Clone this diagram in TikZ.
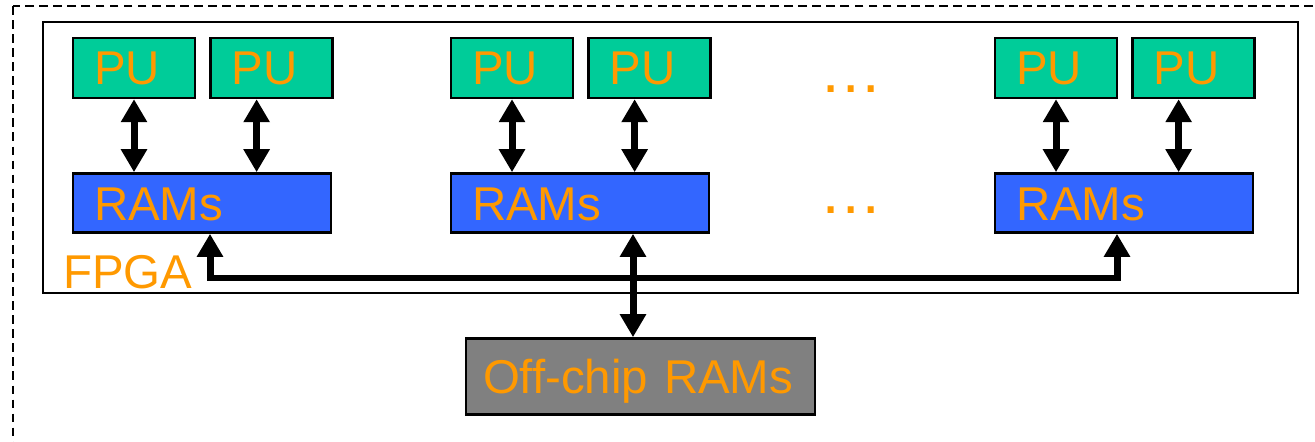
\documentclass[tikz,border=0pt]{standalone}
\usepackage{fontspec}
\setmainfont{Liberation Sans}
\usepackage{tikz}
\usetikzlibrary{arrows.meta, positioning, calc}
\usepackage{xcolor}

\definecolor{txtorange}{HTML}{FF9900}
\definecolor{pugreen}{HTML}{00CC99}
\definecolor{ramblue}{HTML}{3366FF}
\definecolor{chipgray}{HTML}{808080}

\begin{document}
\begin{tikzpicture}[x=0.02cm, y=-0.02cm,
  lbl/.style={text=txtorange, font=\fontsize{27}{32}\selectfont},
  boxbase/.style={lbl, draw, line width=1.5pt, inner ysep=0pt, inner xsep=0.42cm,
    align=left, text height=19.4pt, text depth=0pt},
  pubox/.style={boxbase, fill=pugreen, text width=1.6cm, minimum height=1.2cm},
  ramsbox/.style={boxbase, fill=ramblue, text width=4.32cm, minimum height=1.18cm},
  offchipbox/.style={boxbase, fill=chipgray, text width=6.3cm, inner xsep=0.34cm, minimum height=1.52cm},
  dbl/.style={line width=0.14cm, {Triangle[width=0.5cm, length=0.46cm]}-{Triangle[width=0.5cm, length=0.46cm]}}
  ]
  \useasboundingbox (0,0) rectangle (1315,442);
  \clip (0,0) rectangle (1315,442);

  \draw[line width=1.5pt, dash pattern=on 5pt off 3pt] (13,6) rectangle (1400,520);

  \node[draw, line width=1.2pt, inner sep=0pt, minimum width=25.1cm, minimum height=5.42cm] (fpga) at (670.5,157.5) {};
  \node[lbl, inner sep=0pt, anchor=base west] (fpgalbl) at (63,289) {FPGA};

  \node[ramsbox] (ram1) at (202,203) {RAMs};
  \node[ramsbox] (ram2) at (580,203) {RAMs};
  \node[ramsbox] (ram3) at (1124,203) {RAMs};

  \node[pubox, above=1.46cm of ram1.north west, anchor=south west] (pu1) {PU};
  \node[pubox, right=0.26cm of pu1] (pu2) {PU};
  \node[pubox, above=1.46cm of ram2.north west, anchor=south west] (pu3) {PU};
  \node[pubox, right=0.26cm of pu3] (pu4) {PU};
  \node[pubox, above=1.46cm of ram3.north west, anchor=south west] (pu5) {PU};
  \node[pubox, right=0.26cm of pu5] (pu6) {PU};

  \node[text=txtorange, font=\fontsize{36}{40}\selectfont, inner sep=0pt, anchor=base] (dots1) at (851,93) {…};
  \node[text=txtorange, font=\fontsize{36}{40}\selectfont, inner sep=0pt, anchor=base] (dots2) at (851,214) {…};

  \node[offchipbox] (offchip) at (640.5,376.5) {Off-chip RAMs};

  \draw[dbl] (pu1.south) -- (pu1.south |- ram1.north);
  \draw[dbl] ([xshift=-0.3cm]pu2.south) -- ([xshift=-0.3cm]pu2.south |- ram1.north);
  \draw[dbl] (pu3.south) -- (pu3.south |- ram2.north);
  \draw[dbl] ([xshift=-0.3cm]pu4.south) -- ([xshift=-0.3cm]pu4.south |- ram2.north);
  \draw[dbl] (pu5.south) -- (pu5.south |- ram3.north);
  \draw[dbl] ([xshift=-0.3cm]pu6.south) -- ([xshift=-0.3cm]pu6.south |- ram3.north);

  \coordinate (bus) at (633,278);
  \draw[dbl] ([xshift=0.16cm]ram1.south) |- (bus) -| ([xshift=-0.14cm]ram3.south);
  \draw[dbl] ([xshift=-0.15cm]offchip.north) -- ([xshift=-0.15cm]offchip.north |- ram2.south);
\end{tikzpicture}
\end{document}
